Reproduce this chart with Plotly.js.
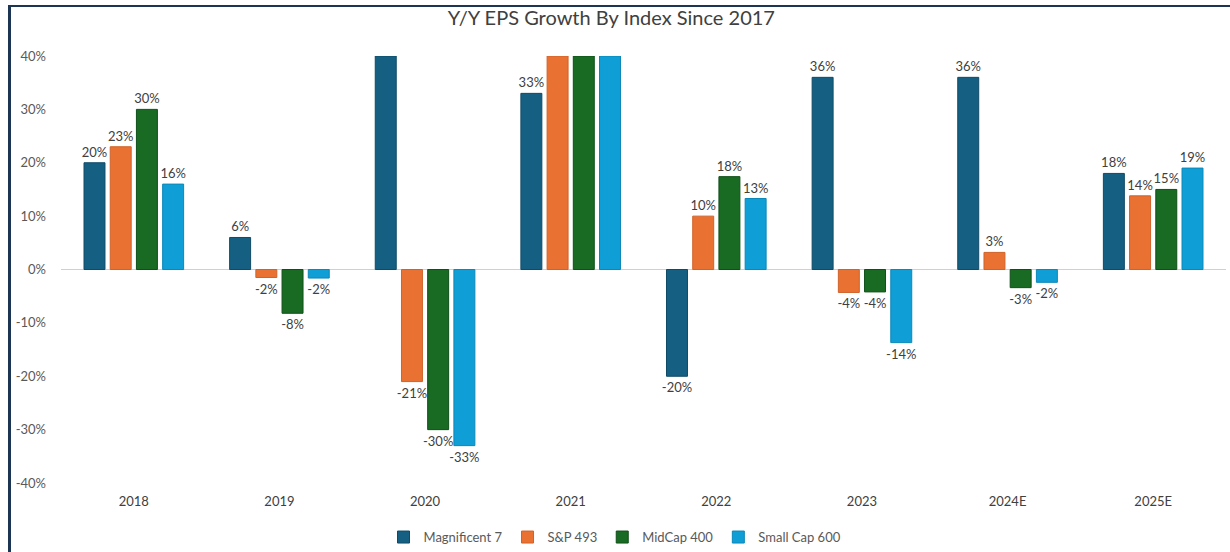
<!DOCTYPE html>
<html>
<head>
<meta charset="utf-8">
<script src="https://cdn.plot.ly/plotly-3.0.1.min.js"></script>
<style>
html,body{margin:0;padding:0;background:#fff;}
#wrap{position:relative;width:1230px;height:552px;overflow:hidden;}
#chart{position:absolute;left:0;top:0;width:1230px;height:552px;}
#bl{position:absolute;left:8px;top:5px;width:3px;height:547px;background:#1c3552;}
#bt{position:absolute;left:8px;top:5px;width:1222px;height:2px;background:#1c3552;}
</style>
</head>
<body>
<div id="wrap"><div id="chart"></div><div id="bl"></div><div id="bt"></div></div>
<script>
const categories = ["2018","2019","2020","2021","2022","2023","2024E","2025E"];
const mag7   = [20, 6, 40, 33, -20, 36, 36, 18];
const sp493  = [23, -1.5, -21, 40, 10, -4.3, 3.2, 13.8];
const mid400 = [30, -8.2, -30, 40, 17.4, -4.2, -3.4, 15];
const sml600 = [16, -1.6, -33, 40, 13.3, -13.7, -2.4, 19];
const mag7Labels   = ["20%","6%","","33%","-20%","36%","36%","18%"];
const sp493Labels  = ["23%","-2%","-21%","","10%","-4%","3%","14%"];
const mid400Labels = ["30%","-8%","-30%","","18%","-4%","-3%","15%"];
const sml600Labels = ["16%","-2%","-33%","","13%","-14%","-2%","19%"];
const seriesNames = ["Magnificent 7","S&P 493","MidCap 400","Small Cap 600"];
const colors = ["#156082","#E97132","#196B24","#0F9ED5"];
const lines  = ["#0f4a66","#d0622a","#0f4f18","#0b88b8"];

const vals = [mag7, sp493, mid400, sml600];
const labs = [mag7Labels, sp493Labels, mid400Labels, sml600Labels];
const FONT = "Lato, 'Open Sans', sans-serif";

const data = vals.map((v,i)=>({
  type:'bar', name:seriesNames[i], x:categories, y:v,
  text:labs[i], textposition:'outside', cliponaxis:true,
  textfont:{family:FONT,size:13,color:'#404040'},
  constraintext:'none',
  marker:{color:colors[i], line:{color:lines[i], width:1}},
  hoverinfo:'skip'
}));

const layout = {
  width:1230, height:552,
  paper_bgcolor:'#fff', plot_bgcolor:'#fff',
  margin:{l:61,r:4,t:56,b:69, autoexpand:false},
  title:{text:'Y/Y EPS Growth By Index Since 2017', font:{family:FONT,size:20,color:'#404040'}, x:0.497, xanchor:'center', y:0.968, yanchor:'middle'},
  barmode:'group', bargap:0.28, bargroupgap:0.2,
  showlegend:true,
  legend:{orientation:'h', x:0.5, xanchor:'center', xref:'container', y:0.027, yref:'container', yanchor:'middle', font:{family:FONT,size:13,color:'#595959'}, itemwidth:30, traceorder:'normal'},
  xaxis:{type:'category', showline:false, showgrid:false, ticks:'', tickfont:{family:FONT,size:13,color:'#404040'}, ticklabelstandoff:9, fixedrange:true},
  yaxis:{range:[-40,40], tickvals:[-40,-30,-20,-10,0,10,20,30,40], ticktext:['-40%','-30%','-20%','-10%','0%','10%','20%','30%','40%'], showgrid:false, zeroline:true, zerolinecolor:'#d0d0d0', zerolinewidth:1, showline:false, ticks:'', tickfont:{family:FONT,size:13,color:'#595959'}, ticklabelstandoff:14, fixedrange:true}
};
Plotly.newPlot('chart', data, layout, {displayModeBar:false, staticPlot:true});
</script>
</body>
</html>
